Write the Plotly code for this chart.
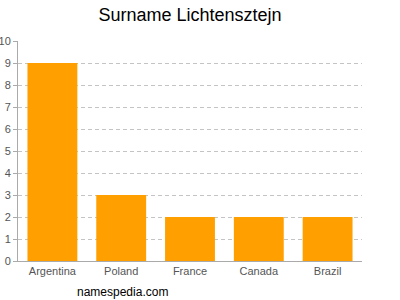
import plotly.graph_objects as go

countries = ["Argentina", "Poland", "France", "Canada", "Brazil"]
counts = [9, 3, 2, 2, 2]
y_ticks = list(range(0, 11))

fig = go.Figure(go.Bar(x=countries, y=counts, marker_color="#FFA000",
                       marker_line_width=0))
fig.update_layout(
    width=400, height=300,
    margin=dict(l=18, r=38, t=41, b=39, autoexpand=False),
    paper_bgcolor="white", plot_bgcolor="white",
    bargap=0.275,
    showlegend=False,
    font=dict(family="Liberation Sans, Arial, sans-serif", color="#555555", size=11),
    title=dict(text="Surname Lichtensztejn", x=0.475, xanchor="center", y=0.95, yanchor="middle",
               font=dict(size=18, color="#000000")),
)
fig.update_yaxes(range=[0, 10], tickvals=y_ticks, showgrid=True, gridcolor="#C4C4C4",
                 griddash="4px,3px", gridwidth=1, showline=True, linecolor="#AAAAAA",
                 ticks="outside", ticklen=4, tickcolor="#AAAAAA", zeroline=False,
                 automargin=False, tickfont=dict(size=11, color="#555555"))
fig.update_xaxes(showline=True, linecolor="#AAAAAA", ticks="", showgrid=False,
                 automargin=False, tickfont=dict(size=11, color="#555555"))
fig.add_annotation(text="namespedia.com", xref="paper", yref="paper", x=0.166, y=-0.14,
                   xanchor="left", yanchor="middle", showarrow=False,
                   font=dict(size=12, color="#000000"))
fig.write_html("out.html")
